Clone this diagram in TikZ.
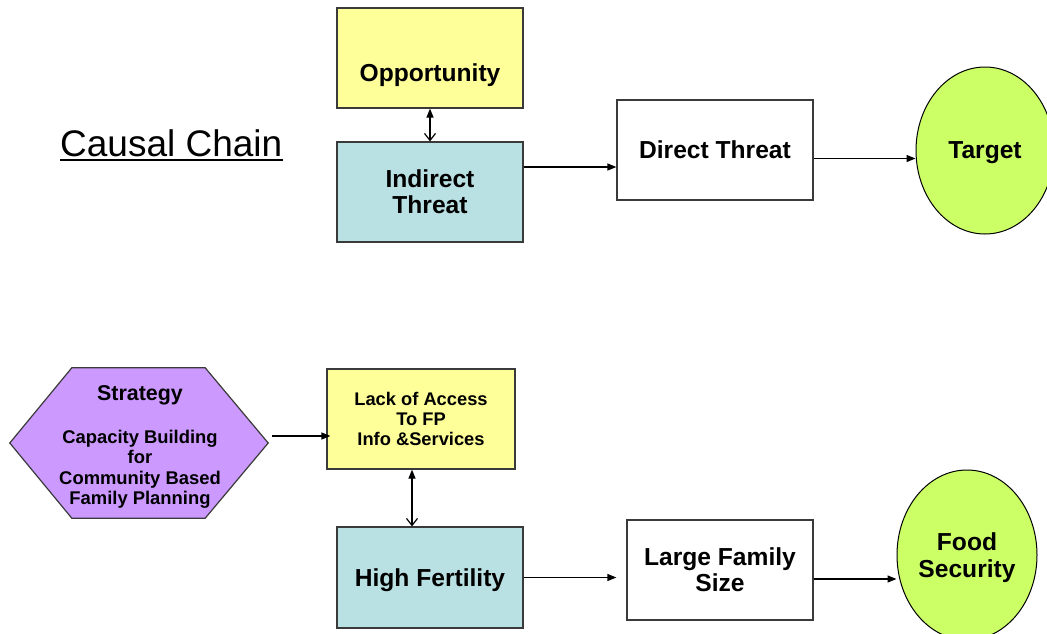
\documentclass[tikz,border=0pt]{standalone}
\usepackage{fontspec}
\setmainfont{Liberation Sans}
\usetikzlibrary{arrows.meta,shapes.geometric}

\definecolor{oppyellow}{HTML}{FFFF99}
\definecolor{threatblue}{HTML}{B9E0E3}
\definecolor{stratpurple}{HTML}{CC99FF}
\definecolor{targetgreen}{HTML}{CCFF66}
\definecolor{edgegray}{HTML}{3A3A3A}

\tikzset{
  boxnode/.style={draw=edgegray, line width=1.2pt, rectangle, inner sep=0pt,
    text depth=0pt, align=center,
    font=\bfseries\fontsize{24.6}{26}\selectfont},
  smallbox/.style={boxnode, font=\bfseries\fontsize{18.3}{20}\selectfont},
  goalnode/.style={draw=black, line width=1pt, ellipse, fill=targetgreen,
    inner sep=0pt, text depth=0pt, align=center,
    font=\bfseries\fontsize{24.6}{26.5}\selectfont},
  flow/.style={line width=1.2pt, -{Triangle[length=9pt,width=7pt]}},
  twoway/.style={line width=1.2pt,
    {Triangle[length=9pt,width=7pt]}-{Straight Barb[length=7pt,width=11pt]}},
}

\begin{document}
\begin{tikzpicture}[x=1pt,y=-1pt]
\useasboundingbox (0,0) rectangle (1047,633);
\clip (0,0) rectangle (1047,633);

% ---- heading ----
\node[anchor=base west, inner sep=0pt, font=\fontsize{37}{40}\selectfont]
  (title) at (60,156) {Causal Chain};
\draw[line width=2pt] ([yshift=-3.5pt]title.base west) -- ([yshift=-3.5pt]title.base east);

% ---- generic causal chain ----
\node[boxnode, fill=oppyellow, minimum width=186pt, minimum height=100pt] (opp) at (430,58) {};
\node[anchor=base, font=\bfseries\fontsize{24.6}{26}\selectfont] (opptext) at (430,81) {Opportunity};
\node[boxnode, fill=threatblue, minimum width=186pt, minimum height=100pt] (ind) at (430,192) {Indirect\\Threat};
\node[boxnode, fill=white, minimum width=196pt, minimum height=100pt] (dt) at (715,150) {Direct Threat};
\node[goalnode, minimum width=138pt, minimum height=167pt] (tgt) at (985,150.5) {Target};

\draw[twoway] (opp.south) -- (ind.north);
\draw[flow] ([yshift=25pt]ind.east) -- ([yshift=25pt]ind.east -| dt.west);
\draw[flow] ([yshift=-8.5pt]dt.east) -- ([yshift=-8.5pt]dt.east -| tgt.west);

% ---- family planning example ----
\node[minimum width=258pt, minimum height=150pt, inner sep=0pt] (hex) at (139,443) {};
\fill[stratpurple, draw=edgegray, line width=1.2pt]
  (hex.west) -- ([xshift=62pt]hex.north west) -- ([xshift=-63pt]hex.north east)
  -- (hex.east) -- ([xshift=-63pt]hex.south east) -- ([xshift=62pt]hex.south west) -- cycle;
\node[anchor=base, inner sep=0pt, font=\bfseries\fontsize{21.4}{24}\selectfont]
  (strathead) at (140,400.7) {Strategy};
\node[inner sep=0pt, text depth=0pt, align=center, font=\bfseries\fontsize{18.4}{20.5}\selectfont]
  (stratbody) at (140,467.5) {Capacity Building\\for\\Community Based\\Family Planning};

\node[smallbox, fill=oppyellow, minimum width=188pt, minimum height=100pt] (lack) at (421,419) {Lack of Access\\To FP\\Info \&Services};
\node[boxnode, fill=threatblue, minimum width=186pt, minimum height=101pt] (hf) at (430,577.5) {High Fertility};
\node[boxnode, fill=white, minimum width=186pt, minimum height=100pt] (lfs) at (720,570) {Large Family\\Size};
\node[goalnode, minimum width=140pt, minimum height=170pt] (food) at (967,555) {Food\\Security};

\draw[flow] ([xshift=4pt,yshift=7pt]hex.east) -- ([xshift=4pt,yshift=7pt]hex.east -| lack.west);
\draw[twoway] ([xshift=-9pt]lack.south) -- ([xshift=-9pt]lack.south |- hf.north);
\draw[flow] (hf.east) -- ([xshift=-10pt]hf.east -| lfs.west);
\draw[flow] ([yshift=-9pt]lfs.east) -- ([yshift=-9pt]lfs.east -| food.west);
\end{tikzpicture}
\end{document}
